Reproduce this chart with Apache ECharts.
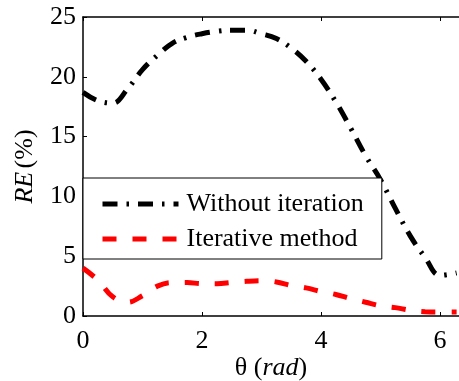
<!DOCTYPE html>
<html>
<head>
<meta charset="utf-8">
<script src="https://cdn.jsdelivr.net/npm/echarts@6/dist/echarts.min.js"></script>
<style>
  html, body { margin: 0; padding: 0; background: #fff; }
  #chart { width: 459px; height: 381px; }
</style>
</head>
<body>
<div id="chart"></div>
<script>
// theta (rad) sample positions
const theta = [0, 0.25, 0.5, 0.75, 1.0, 1.25, 1.5, 1.75, 2.0, 2.25, 2.5, 2.75, 3.0,
  3.25, 3.5, 3.75, 4.0, 4.25, 4.5, 4.75, 5.0, 5.25, 5.5, 5.75, 6.0, 6.28];

// RE (%)
const withoutIteration = [18.7, 18.0, 17.8, 19.0, 20.6, 21.8, 22.8, 23.3, 23.6, 23.8, 23.9, 23.9, 23.6,
  23.2, 22.4, 21.3, 19.8, 17.9, 15.7, 13.4, 11.4, 9.0, 6.7, 4.9, 3.4, 3.6];
const iterative = [4.0, 3.0, 1.6, 1.15, 1.7, 2.5, 2.8, 2.8, 2.7, 2.7, 2.8, 2.9, 2.95,
  2.85, 2.55, 2.35, 2.05, 1.8, 1.45, 1.15, 0.85, 0.7, 0.48, 0.36, 0.33, 0.33];

const seriesNames = ['Without iteration', 'Iterative method'];
const xTicks = [0, 2, 4, 6];
const yTicks = [0, 5, 10, 15, 20, 25];

const FONT = 'Liberation Serif';
const FS = 26;

function pairs(xs, ys) {
  return xs.map((x, i) => [x, ys[i]]);
}

const chart = echarts.init(document.getElementById('chart'));

const option = {
  animation: false,
  backgroundColor: '#fff',
  grid: { left: 83, right: 0, top: 17, bottom: 65, outerBoundsMode: 'none', containLabel: false },
  legend: {
    orient: 'vertical',
    left: 83,
    top: 178,
    backgroundColor: '#fff',
    borderColor: '#000',
    borderWidth: 1,
    borderRadius: 0,
    padding: [13, 18, 7, 17],
    itemWidth: 76,
    itemHeight: 26,
    itemGap: 9,
    itemStyle: { opacity: 0 },
    lineStyle: { width: 5 },
    textStyle: { fontFamily: FONT, fontSize: FS, color: '#000', padding: [0, 0, 0, 3] },
    data: seriesNames
  },
  xAxis: [
    {
      type: 'value',
      min: xTicks[0],
      max: 6.32,
      interval: 2,
      name: '{n|θ (}{i|rad}{n|)}',
      nameLocation: 'middle',
      nameGap: 39,
      nameMoveOverlap: false,
      nameTextStyle: {
        rich: {
          n: { fontFamily: FONT, fontSize: FS, color: '#000' },
          i: { fontFamily: FONT, fontSize: FS, color: '#000', fontStyle: 'italic' }
        }
      },
      axisLine: { lineStyle: { color: '#000', width: 1.5 } },
      axisTick: { inside: true, length: 4, lineStyle: { color: '#000' } },
      axisLabel: {
        showMaxLabel: false,
        margin: 12,
        fontFamily: FONT, fontSize: FS, color: '#000',
        formatter: v => (xTicks.includes(v) ? String(v) : '')
      },
      splitLine: { show: false }
    },
    {
      type: 'value',
      position: 'top',
      min: xTicks[0],
      max: 6.32,
      interval: 2,
      axisLine: { show: true, onZero: false, lineStyle: { color: '#000', width: 1.5 } },
      axisTick: { inside: true, length: 4, lineStyle: { color: '#000' } },
      axisLabel: { show: false },
      splitLine: { show: false }
    }
  ],
  yAxis: {
    type: 'value',
    min: yTicks[0],
    max: yTicks[yTicks.length - 1],
    interval: 5,
    name: '{i|RE} {n|(%)}',
    nameLocation: 'middle',
    nameGap: 45,
    nameMoveOverlap: false,
    nameRotate: 90,
    nameTextStyle: {
      rich: {
        n: { fontFamily: FONT, fontSize: FS, color: '#000' },
        i: { fontFamily: FONT, fontSize: FS, color: '#000', fontStyle: 'italic' }
      }
    },
    axisLine: { show: true, lineStyle: { color: '#000', width: 1.5 } },
    axisTick: { show: true, inside: true, length: 4, lineStyle: { color: '#000' } },
    axisLabel: { margin: 7, fontFamily: FONT, fontSize: FS, color: '#000' },
    splitLine: { show: false }
  },
  series: [
    {
      name: seriesNames[0],
      type: 'line',
      smooth: 0.4,
      symbol: 'none',
      data: pairs(theta, withoutIteration),
      lineStyle: { color: '#000', width: 5, type: [15, 9, 2.5, 9], cap: 'butt' },
      itemStyle: { color: '#000' },
      z: 3
    },
    {
      name: seriesNames[1],
      type: 'line',
      smooth: 0.4,
      symbol: 'none',
      data: pairs(theta, iterative),
      lineStyle: { color: '#ff0000', width: 5, type: [14, 16], cap: 'butt' },
      itemStyle: { color: '#ff0000' },
      z: 3
    }
  ]
};

chart.setOption(option);
</script>
</body>
</html>
